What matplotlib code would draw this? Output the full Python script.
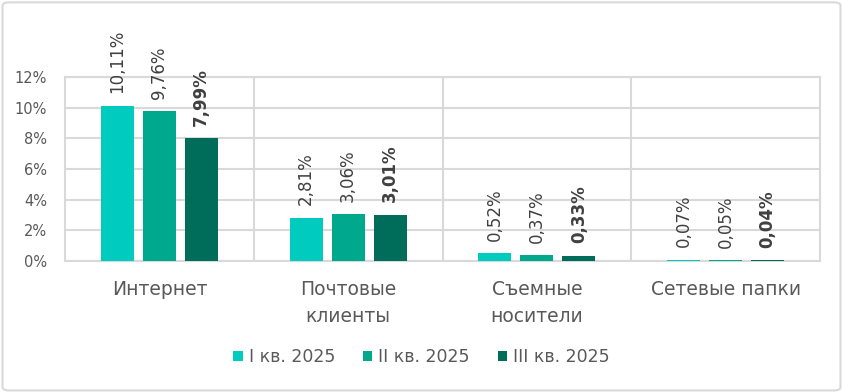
import matplotlib
matplotlib.use("Agg")
import matplotlib.pyplot as plt
from matplotlib.patches import FancyBboxPatch
import numpy as np

categories = ["Интернет", "Почтовые\nклиенты", "Съемные\nносители", "Сетевые папки"]
series_names = ["I кв. 2025", "II кв. 2025", "III кв. 2025"]
q1 = [10.11, 2.81, 0.52, 0.07]
q2 = [9.76, 3.06, 0.37, 0.05]
q3 = [7.99, 3.01, 0.33, 0.04]
yticks = [0, 2, 4, 6, 8, 10, 12]
colors = ["#00CBBF", "#00A88E", "#006D5B"]

plt.rcParams['font.family'] = ['DejaVu Sans']
text_color = "#595959"
grid_color = "#D9D9D9"

fig = plt.figure(figsize=(8.43, 3.92), dpi=100)
border = FancyBboxPatch((0.003, 0.004), 0.994, 0.99, boxstyle="round,pad=0,rounding_size=0.008",
                        transform=fig.transFigure, fill=False, edgecolor=grid_color, linewidth=1.5)
fig.patches.append(border)

ax = fig.add_axes([65/843, 1-261/392, (820-65)/843, (261-77)/392])
x = np.arange(len(categories))
offsets = [-0.2225, 0, 0.2225]
width = 0.175
for i, (vals, name) in enumerate(zip([q1, q2, q3], series_names)):
    bars = ax.bar(x + offsets[i], vals, width=width, color=colors[i], label=name, zorder=3)
    for b, v in zip(bars, vals):
        ax.annotate(f"{v:.2f}%".replace(".", ","),
                    (b.get_x() + b.get_width()/2, b.get_height()),
                    xytext=(0, 9), textcoords="offset points",
                    rotation=90, ha="center", va="bottom", fontsize=12,
                    color="#404040", fontweight="bold" if i == 2 else "normal",
                    annotation_clip=False)

ax.set_xlim(-0.5, len(categories) - 0.5)
ax.set_ylim(0, 12)
ax.set_yticks(yticks)
ax.set_yticklabels([f"{t}%" for t in yticks], fontsize=10.5, color=text_color)
ax.yaxis.grid(True, color=grid_color, linewidth=1.5, zorder=0)
for xb in np.arange(0.5, len(categories) - 0.5, 1):
    ax.axvline(xb, color=grid_color, linewidth=1.5, zorder=0)
for s in ax.spines.values():
    s.set_color(grid_color)
    s.set_linewidth(1.5)
ax.set_xticks(x)
ax.set_xticklabels(categories, fontsize=13.5, color=text_color, linespacing=1.5)
ax.tick_params(axis="both", length=0)
ax.tick_params(axis="x", pad=14)
ax.tick_params(axis="y", pad=13)

fig.legend(loc="center", bbox_to_anchor=(0.5, 1-357/392), ncol=3, frameon=False,
           fontsize=12.5, handlelength=0.55, handleheight=0.55, handletextpad=0.35,
           columnspacing=1.6, labelcolor=text_color)

fig.savefig("out.png", dpi=100)
